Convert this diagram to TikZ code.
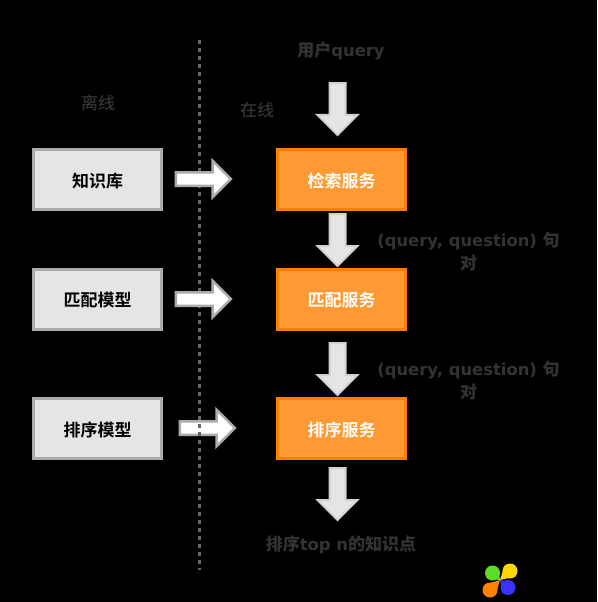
\documentclass[tikz,border=0pt]{standalone}
\usepackage{fontspec}
\usetikzlibrary{shapes.arrows}
\setmainfont{DejaVu Sans}
\newfontfamily\cjkreg{Noto Sans CJK SC Medium}
\newfontfamily\cjkbold{Noto Sans CJK SC Bold}
\definecolor{lbl}{HTML}{333333}
\definecolor{svcfill}{HTML}{FF9933}
\definecolor{svcline}{HTML}{FF7F00}
\definecolor{pgreen}{RGB}{90,220,40}
\definecolor{pyellow}{RGB}{255,215,0}
\definecolor{porange}{RGB}{255,130,0}
\definecolor{pblue}{RGB}{60,50,255}
\tikzset{
  x=1pt,y=-1pt,
  box/.style={draw,line width=3pt,minimum width=128pt,minimum height=60pt,inner sep=0pt,text depth=0pt,font=\fontsize{17}{20}\selectfont\cjkbold},
  kbox/.style={box,fill=black!10,draw=black!33,text=black},
  svc/.style={box,fill=svcfill,draw=svcline,text=white},
  harrow/.style={single arrow,draw=black!33,fill=white,line width=2.5pt,minimum height=55pt,minimum width=35pt,inner xsep=0pt,inner ysep=5.5pt,single arrow head extend=11.5pt,single arrow tip angle=90},
  varrow/.style={single arrow,draw=black!18,fill=black!10,line width=2pt,minimum height=52pt,minimum width=39pt,inner xsep=0pt,inner ysep=7pt,single arrow head extend=12pt,single arrow tip angle=90,rotate=-90},
  lab/.style={text=lbl,font=\fontsize{17}{20}\selectfont\cjkreg,inner sep=0pt},
  mixed/.style={text=lbl,font=\fontsize{16.4}{20}\selectfont\bfseries,inner sep=0pt},
  pair/.style={text=lbl,font=\fontsize{16.4}{23}\selectfont\bfseries,inner sep=0pt,align=center},
  divider/.style={draw=black!60,line width=3pt,dash pattern=on 4pt off 4pt},
  petal/.style={circle,inner sep=0pt,minimum size=15pt}
}
\newcommand{\zh}[1]{{\fontsize{17}{20}\selectfont\cjkreg #1}}
\begin{document}
\begin{tikzpicture}
\path[fill=black,use as bounding box] (0,0) rectangle (597,602);
% third arrow lies under the dotted line
\node[harrow] (a3) at (204,428) {};
\coordinate (divtop) at (199,40);
\coordinate (divbot) at (199,570);
\draw[divider] (divtop) -- (divbot);
\node[lab] (offl) at (98,103) {离线};
\node[lab] (onl) at (257,110) {在线};
\node[mixed] (q) at (341,50.5) {\zh{用户}query};
\node[kbox] (k1) at (97.5,179.5) {\raisebox{-0.5pt}{知识库}};
\node[kbox] (k2) at (97.5,299.5) {\raisebox{-0.5pt}{匹配模型}};
\node[kbox] (k3) at (97.5,428.5) {\raisebox{-0.5pt}{排序模型}};
\node[svc] (s1) at (341.5,179.5) {\raisebox{-0.5pt}{检索服务}};
\node[svc] (s2) at (341.5,299.5) {\raisebox{-0.5pt}{匹配服务}};
\node[svc] (s3) at (341.5,428.5) {\raisebox{-0.5pt}{排序服务}};
\node[harrow] (a1) at (200,179) {};
\node[harrow] (a2) at (200,299) {};
\node[varrow] (v1) at (337.5,105) {};
\node[varrow] (v2) at (337.5,236) {};
\node[varrow] (v3) at (337.5,365) {};
\node[varrow] (v4) at (337.5,490) {};
\node[pair] (p1) at (468.5,251.5) {(query, question) \zh{句}\\\zh{对}};
\node[pair] (p2) at (468.5,380.5) {(query, question) \zh{句}\\\zh{对}};
\node[mixed] (res) at (341,544.5) {\zh{排序}top n\zh{的知识点}};
% logo
\coordinate (mid) at (500,580);
\node[petal,fill=pgreen] (g) at (492.5,573) {};
\node[petal,fill=pyellow] (y) at (510,571) {};
\node[petal,fill=porange] (o) at (490,590) {};
\node[petal,fill=pblue] (b) at (508,587.5) {};
\fill[pgreen] (mid) -- (g.north east) -- (g.south west) -- cycle;
\fill[pyellow] (mid) -- (y.north west) -- (y.south east) -- cycle;
\fill[porange] (mid) -- (o.north west) -- (o.south east) -- cycle;
\fill[pblue] (mid) -- (b.north east) -- (b.south west) -- cycle;
\end{tikzpicture}
\end{document}
